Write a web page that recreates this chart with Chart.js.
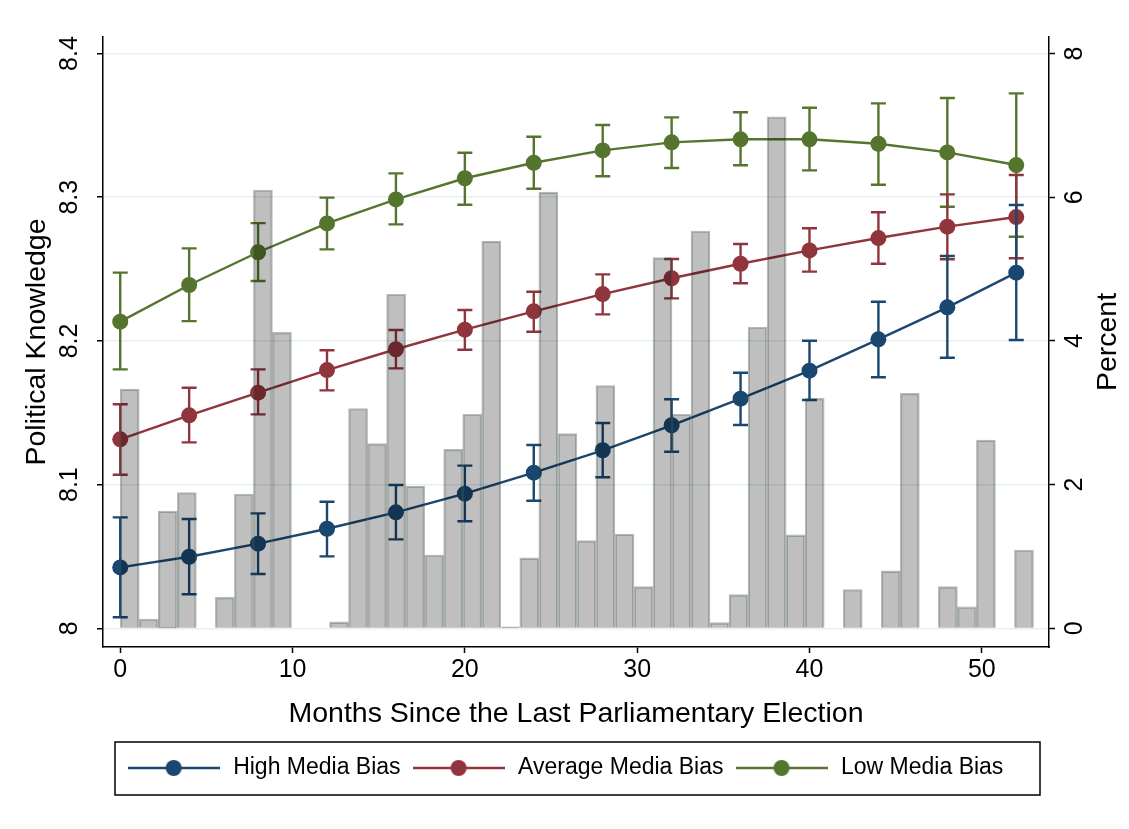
<!DOCTYPE html>
<html>
<head>
<meta charset="utf-8">
<title>Political Knowledge and Months Since the Last Parliamentary Election</title>
<script src="https://cdn.jsdelivr.net/npm/chart.js@4.4.1/dist/chart.umd.min.js"></script>
<style>
  html, body { margin: 0; padding: 0; background: #fff; }
  #wrap { width: 1129px; height: 829px; }
</style>
</head>
<body>
<div id="wrap"><canvas id="knowledge-chart" width="1129" height="829"></canvas></div>
<script>
// survey months where the predicted values were computed
const months = [0, 4, 8, 12, 16, 20, 24, 28, 32, 36, 40, 44, 48, 52];

// predicted political knowledge with 95% interval, by media bias level
const highBias = [8.0424, 8.0498, 8.0589, 8.0693, 8.0807, 8.0937, 8.1083, 8.1239, 8.1413, 8.1598, 8.1793, 8.2011, 8.2234, 8.2475];
const highLow  = [8.0077, 8.0237, 8.0378, 8.0501, 8.0619, 8.0745, 8.0888, 8.1051, 8.1229, 8.1415, 8.1589, 8.1747, 8.1883, 8.2006];
const highHigh = [8.0772, 8.0761, 8.0800, 8.0881, 8.0997, 8.1132, 8.1276, 8.1429, 8.1594, 8.1779, 8.2001, 8.2273, 8.2591, 8.2946];

const avgBias = [8.1315, 8.1482, 8.1640, 8.1797, 8.1942, 8.2078, 8.2206, 8.2326, 8.2436, 8.2537, 8.2630, 8.2716, 8.2795, 8.2862];
const avgLow  = [8.1069, 8.1294, 8.1489, 8.1656, 8.1809, 8.1939, 8.2064, 8.2185, 8.2296, 8.2401, 8.2482, 8.2537, 8.2568, 8.2575];
const avgHigh = [8.1559, 8.1674, 8.1802, 8.1935, 8.2076, 8.2215, 8.2342, 8.2463, 8.2570, 8.2674, 8.2784, 8.2895, 8.3020, 8.3155];

const lowBias = [8.2134, 8.2389, 8.2617, 8.2818, 8.2985, 8.3132, 8.3240, 8.3326, 8.3382, 8.3403, 8.3403, 8.3372, 8.3312, 8.3224];
const lowLow  = [8.1802, 8.2138, 8.2417, 8.2637, 8.2811, 8.2948, 8.3059, 8.3146, 8.3203, 8.3222, 8.3187, 8.3087, 8.2934, 8.2725];
const lowHigh = [8.2475, 8.2644, 8.2820, 8.2997, 8.3166, 8.3310, 8.3421, 8.3503, 8.3556, 8.3591, 8.3623, 8.3653, 8.3690, 8.3723];

// histogram of interview months: 48 bins over 0-53, percent of respondents (null = empty bin)
const binWidth = 53 / 48;
const binPercent = [
  3.33, 0.13, 1.63, 1.89, null, 0.43, 1.87, 6.10, 4.12, null, null, 0.09,
  3.06, 2.57, 4.65, 1.98, 1.02, 2.49, 2.98, 5.39, 0.02, 0.98, 6.07, 2.71,
  1.22, 3.38, 1.31, 0.58, 5.16, 2.98, 5.53, 0.08, 0.47, 4.19, 7.12, 1.30,
  3.20, null, 0.54, null, 0.80, 3.27, null, 0.58, 0.30, 2.62, null, 1.09
];

const xTicks = [0, 10, 20, 30, 40, 50];
const knowledgeTicks = [8, 8.1, 8.2, 8.3, 8.4];
const percentTicks = [0, 2, 4, 6, 8];

const FONT = "'Liberation Sans', Arial, sans-serif";
const NAVY = "#1a476f";
const MAROON = "#90353b";
const FOREST = "#55752f";

// left axis range; the percent axis is tied to it so 0..8 lines up with 8.0..8.4
const Y_MIN = 7.987;
const Y_MAX = 8.4115;
const toPercent = v => (v - 8) * 20;

function points(values) {
  return months.map((m, i) => ({ x: m, y: values[i] }));
}

function lineSeries(label, color, values, lo, hi, order) {
  return {
    type: "line",
    label: label,
    data: points(values),
    errLow: lo,
    errHigh: hi,
    yAxisID: "y",
    borderColor: color,
    backgroundColor: color,
    borderWidth: 2.4,
    pointRadius: 8,
    pointHoverRadius: 8,
    pointBorderWidth: 0,
    pointBackgroundColor: color,
    tension: 0,
    order: order
  };
}

// line + dot sample used in the legend
function legendIcon(color) {
  const c = document.createElement("canvas");
  c.width = 92;
  c.height = 18;
  const g = c.getContext("2d");
  g.strokeStyle = color;
  g.lineWidth = 2.4;
  g.beginPath();
  g.moveTo(0, 9);
  g.lineTo(92, 9);
  g.stroke();
  g.fillStyle = color;
  g.beginPath();
  g.arc(46, 9, 8, 0, Math.PI * 2);
  g.fill();
  return c;
}

// capped interval lines, drawn just under each line series
const errorBars = {
  id: "errorBars",
  beforeDatasetDraw(chart, args) {
    const ds = chart.data.datasets[args.index];
    if (!ds.errLow) return;
    const xs = chart.scales.x;
    const ys = chart.scales.y;
    const ctx = chart.ctx;
    ctx.save();
    ctx.strokeStyle = ds.borderColor;
    ctx.lineWidth = 2.4;
    ds.data.forEach((p, i) => {
      const px = xs.getPixelForValue(p.x);
      const top = ys.getPixelForValue(ds.errHigh[i]);
      const bottom = ys.getPixelForValue(ds.errLow[i]);
      ctx.beginPath();
      ctx.moveTo(px, top);
      ctx.lineTo(px, bottom);
      ctx.moveTo(px - 7.5, top);
      ctx.lineTo(px + 7.5, top);
      ctx.moveTo(px - 7.5, bottom);
      ctx.lineTo(px + 7.5, bottom);
      ctx.stroke();
    });
    ctx.restore();
  }
};

// right axis title (reads bottom to top) and the frame round the legend
const extras = {
  id: "extras",
  afterDraw(chart) {
    const ctx = chart.ctx;
    const area = chart.chartArea;
    const s = chart.scales.y2;
    ctx.save();
    ctx.translate(s.right - 21, (area.top + area.bottom) / 2);
    ctx.rotate(-Math.PI / 2);
    ctx.font = "28.5px " + FONT;
    ctx.fillStyle = "#000";
    ctx.textAlign = "center";
    ctx.textBaseline = "middle";
    ctx.fillText("Percent", 0, 0);
    ctx.restore();

    const lg = chart.legend;
    ctx.save();
    ctx.strokeStyle = "#000";
    ctx.lineWidth = 1.5;
    ctx.strokeRect(area.left + 12, lg.top - 4.5, area.right - area.left - 21, lg.bottom - lg.top + 10);
    ctx.restore();
  }
};

const histogram = {
  type: "bar",
  label: "Percent",
  data: binPercent.map((v, i) => ({ x: (i + 0.5) * binWidth, y: v })),
  yAxisID: "y2",
  backgroundColor: "rgba(0, 0, 0, 0.25)",
  borderColor: "rgba(48, 68, 60, 0.36)",
  borderWidth: 1.5,
  barPercentage: 1,
  categoryPercentage: 1,
  order: 0
};

const ctx = document.getElementById("knowledge-chart").getContext("2d");
const chart = new Chart(ctx, {
  data: {
    datasets: [
      lineSeries("High Media Bias", NAVY, highBias, highLow, highHigh, 1),
      lineSeries("Average Media Bias", MAROON, avgBias, avgLow, avgHigh, 2),
      lineSeries("Low Media Bias", FOREST, lowBias, lowLow, lowHigh, 3),
      histogram
    ]
  },
  options: {
    responsive: false,
    animation: false,
    layout: { padding: { top: 37, bottom: 39.5, left: 0, right: 0 } },
    plugins: {
      tooltip: { enabled: false },
      legend: {
        position: "bottom",
        labels: {
          usePointStyle: true,
          pointStyleWidth: 96,
          padding: 10,
          color: "#000",
          font: { family: FONT, size: 23 },
          generateLabels(chart) {
            return chart.data.datasets
              .map((ds, i) => ({ ds, i }))
              .filter(o => o.ds.type === "line")
              .map(o => ({
                text: o.ds.label,
                pointStyle: legendIcon(o.ds.borderColor),
                fillStyle: o.ds.borderColor,
                strokeStyle: o.ds.borderColor,
                lineWidth: 0,
                fontColor: "#000",
                hidden: false,
                datasetIndex: o.i
              }));
          }
        }
      }
    },
    scales: {
      x: {
        type: "linear",
        min: -1,
        max: 53.9,
        offset: false,
        afterFit(scale) { scale.height = 99.5; },
        afterBuildTicks(scale) { scale.ticks = xTicks.map(v => ({ value: v })); },
        grid: { offset: false, drawOnChartArea: false, tickLength: 6, tickColor: "#000", tickWidth: 1.5 },
        border: { display: true, color: "#000", width: 1.5 },
        ticks: {
          autoSkip: false,
          maxRotation: 0,
          padding: 2,
          color: "#000",
          font: { family: FONT, size: 25 }
        },
        title: {
          display: true,
          text: "Months Since the Last Parliamentary Election",
          color: "#000",
          font: { family: FONT, size: 28.5 },
          padding: { top: 0, bottom: 15 }
        }
      },
      y: {
        type: "linear",
        position: "left",
        min: Y_MIN,
        max: Y_MAX,
        afterFit(scale) { scale.width = 103; },
        afterBuildTicks(scale) { scale.ticks = knowledgeTicks.map(v => ({ value: v })); },
        grid: { color: "#e6eff1", lineWidth: 1.5, tickLength: 6, tickColor: "#000", tickWidth: 1.5 },
        border: { display: true, color: "#000", width: 1.5 },
        ticks: {
          autoSkip: false,
          minRotation: 90,
          maxRotation: 90,
          crossAlign: "center",
          padding: 9.5,
          color: "#000",
          font: { family: FONT, size: 25 },
          callback: v => String(Math.round(v * 10) / 10)
        },
        title: {
          display: true,
          text: "Political Knowledge",
          color: "#000",
          font: { family: FONT, size: 28.5 },
          padding: { top: 20, bottom: 0 }
        }
      },
      y2: {
        type: "linear",
        position: "right",
        min: toPercent(Y_MIN),
        max: toPercent(Y_MAX),
        afterFit(scale) { scale.width = 80; },
        afterBuildTicks(scale) { scale.ticks = percentTicks.map(v => ({ value: v })); },
        grid: { drawOnChartArea: false, tickLength: 6, tickColor: "#000", tickWidth: 1.5 },
        border: { display: true, color: "#000", width: 1.5 },
        ticks: {
          autoSkip: false,
          minRotation: 90,
          maxRotation: 90,
          crossAlign: "center",
          padding: 13,
          color: "#000",
          font: { family: FONT, size: 25 }
        }
      }
    }
  },
  plugins: [errorBars, extras]
});
</script>
</body>
</html>
